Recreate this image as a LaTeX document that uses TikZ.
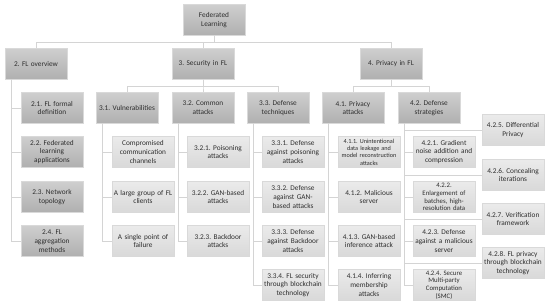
\documentclass[tikz,border=0pt]{standalone}
\usepackage{fontspec}
\setmainfont{Carlito}
\usetikzlibrary{shadows}
\frenchspacing

\definecolor{linkgray}{HTML}{D4D4D4}
\definecolor{inkgray}{HTML}{2E2E2E}

\tikzset{
  topic/.style={rectangle, draw=gray!30, top color=gray!38, bottom color=gray!62,
    minimum width=62pt, minimum height=31pt, text width=61pt, align=center,
    inner sep=0.5pt, text=inkgray, font=\fontsize{7.3}{8.7}\selectfont,
    drop shadow={shadow xshift=0.8pt, shadow yshift=-0.8pt, opacity=0.25}},
  leaf/.style={topic, top color=gray!16, bottom color=gray!30},
  tight/.style={font=\fontsize{6.8}{7.7}\selectfont},
  tiny/.style={font=\fontsize{6.2}{7.3}\selectfont},
  link/.style={draw=linkgray, line width=0.9pt}
}

\begin{document}
\begin{tikzpicture}[x=1pt, y=-1pt]
        \useasboundingbox (0,0) rectangle (550,306);
        % top levels
        \node[topic] (root) at (214,20) {Federated\\Learning};
        \node[topic] (ov) at (36,64) {2. FL overview};
        \node[topic] (sec) at (203,64) {3. Security in FL};
        \node[topic] (pr) at (391,64) {4. Privacy in FL};
        % second level
        \node[topic] (vul) at (127,108) {3.1. Vulnerabilities};
        \node[topic] (att) at (203,108) {3.2. Common\\attacks};
        \node[topic] (def) at (278,108) {3.3. Defense\\techniques};
        \node[topic] (pa) at (353,108) {4.1. Privacy\\attacks};
        \node[topic] (ds) at (429,108) {4.2. Defense\\strategies};
        % FL overview
        \node[topic] (ov1) at (52,108) {2.1. FL formal\\definition};
        \node[topic] (ov2) at (52,152) {2.2. Federated\\learning\\applications};
        \node[topic] (ov3) at (52,197) {2.3. Network\\topology};
        \node[topic] (ov4) at (52,241) {2.4. FL\\aggregation\\methods};
        % vulnerabilities
        \node[leaf] (vul1) at (143,152) {Compromised\\communication\\channels};
        \node[leaf] (vul2) at (143,197) {A large group of FL\\clients};
        \node[leaf] (vul3) at (143,241) {A single point of\\failure};
        % common attacks
        \node[leaf] (att1) at (218,152) {3.2.1. Poisoning\\attacks};
        \node[leaf] (att2) at (218,197) {3.2.2. GAN-based\\attacks};
        \node[leaf] (att3) at (218,241) {3.2.3. Backdoor\\attacks};
        % defense techniques
        \node[leaf] (def1) at (293,152) {3.3.1. Defense\\against poisoning\\attacks};
        \node[leaf] (def2) at (293,197) {3.3.2. Defense\\against GAN-\\based attacks};
        \node[leaf] (def3) at (293,241) {3.3.3. Defense\\against Backdoor\\attacks};
        \node[leaf] (def4) at (293,285) {3.3.4. FL security\\through blockchain\\technology};
        % privacy attacks
        \node[leaf, tiny] (pa1) at (369,152) {4.1.1. Unintentional\\data leakage and\\model reconstruction\\attacks};
        \node[leaf] (pa2) at (369,197) {4.1.2. Malicious\\server};
        \node[leaf] (pa3) at (369,241) {4.1.3. GAN-based\\inference attack};
        \node[leaf] (pa4) at (369,285) {4.1.4. Inferring\\membership\\attacks};
        % defense strategies
        \node[leaf] (ds1) at (444,152) {4.2.1. Gradient\\noise addition and\\compression};
        \node[leaf, tight] (ds2) at (444,197) {4.2.2.\\Enlargement of\\batches, high-\\resolution data};
        \node[leaf] (ds3) at (444,241) {4.2.3. Defense\\against a malicious\\server};
        \node[leaf, tight] (ds4) at (444,285) {4.2.4. Secure\\Multi-party\\Computation\\(SMC)};
        \node[leaf] (ds5) at (513,130) {4.2.5. Differential\\Privacy};
        \node[leaf] (ds6) at (513,175) {4.2.6. Concealing\\iterations};
        \node[leaf] (ds7) at (513,219) {4.2.7. Verification\\framework};
        \node[leaf] (ds8) at (513,263) {4.2.8. FL privacy\\through blockchain\\technology};

        % connectors
        \foreach \c in {ov, sec, pr}
            \draw[link] (root.south) -- ++(0,7) -| (\c.north);
        \foreach \c in {vul, att, def}
            \draw[link] (sec.south) -- ++(0,7) -| (\c.north);
        \foreach \c in {pa, ds}
            \draw[link] (pr.south) -- ++(0,7) -| (\c.north);
        \foreach \c in {ov1, ov2, ov3, ov4}
            \draw[link] ([xshift=7pt]ov.south west) |- (\c.west);
        \foreach \p/\n in {vul/3, att/3, def/4, pa/4, ds/8}
            \foreach \i in {1,...,\n}
                \draw[link] ([xshift=7pt]\p.south west) |- (\p\i.west);
    \end{tikzpicture}
\end{document}
